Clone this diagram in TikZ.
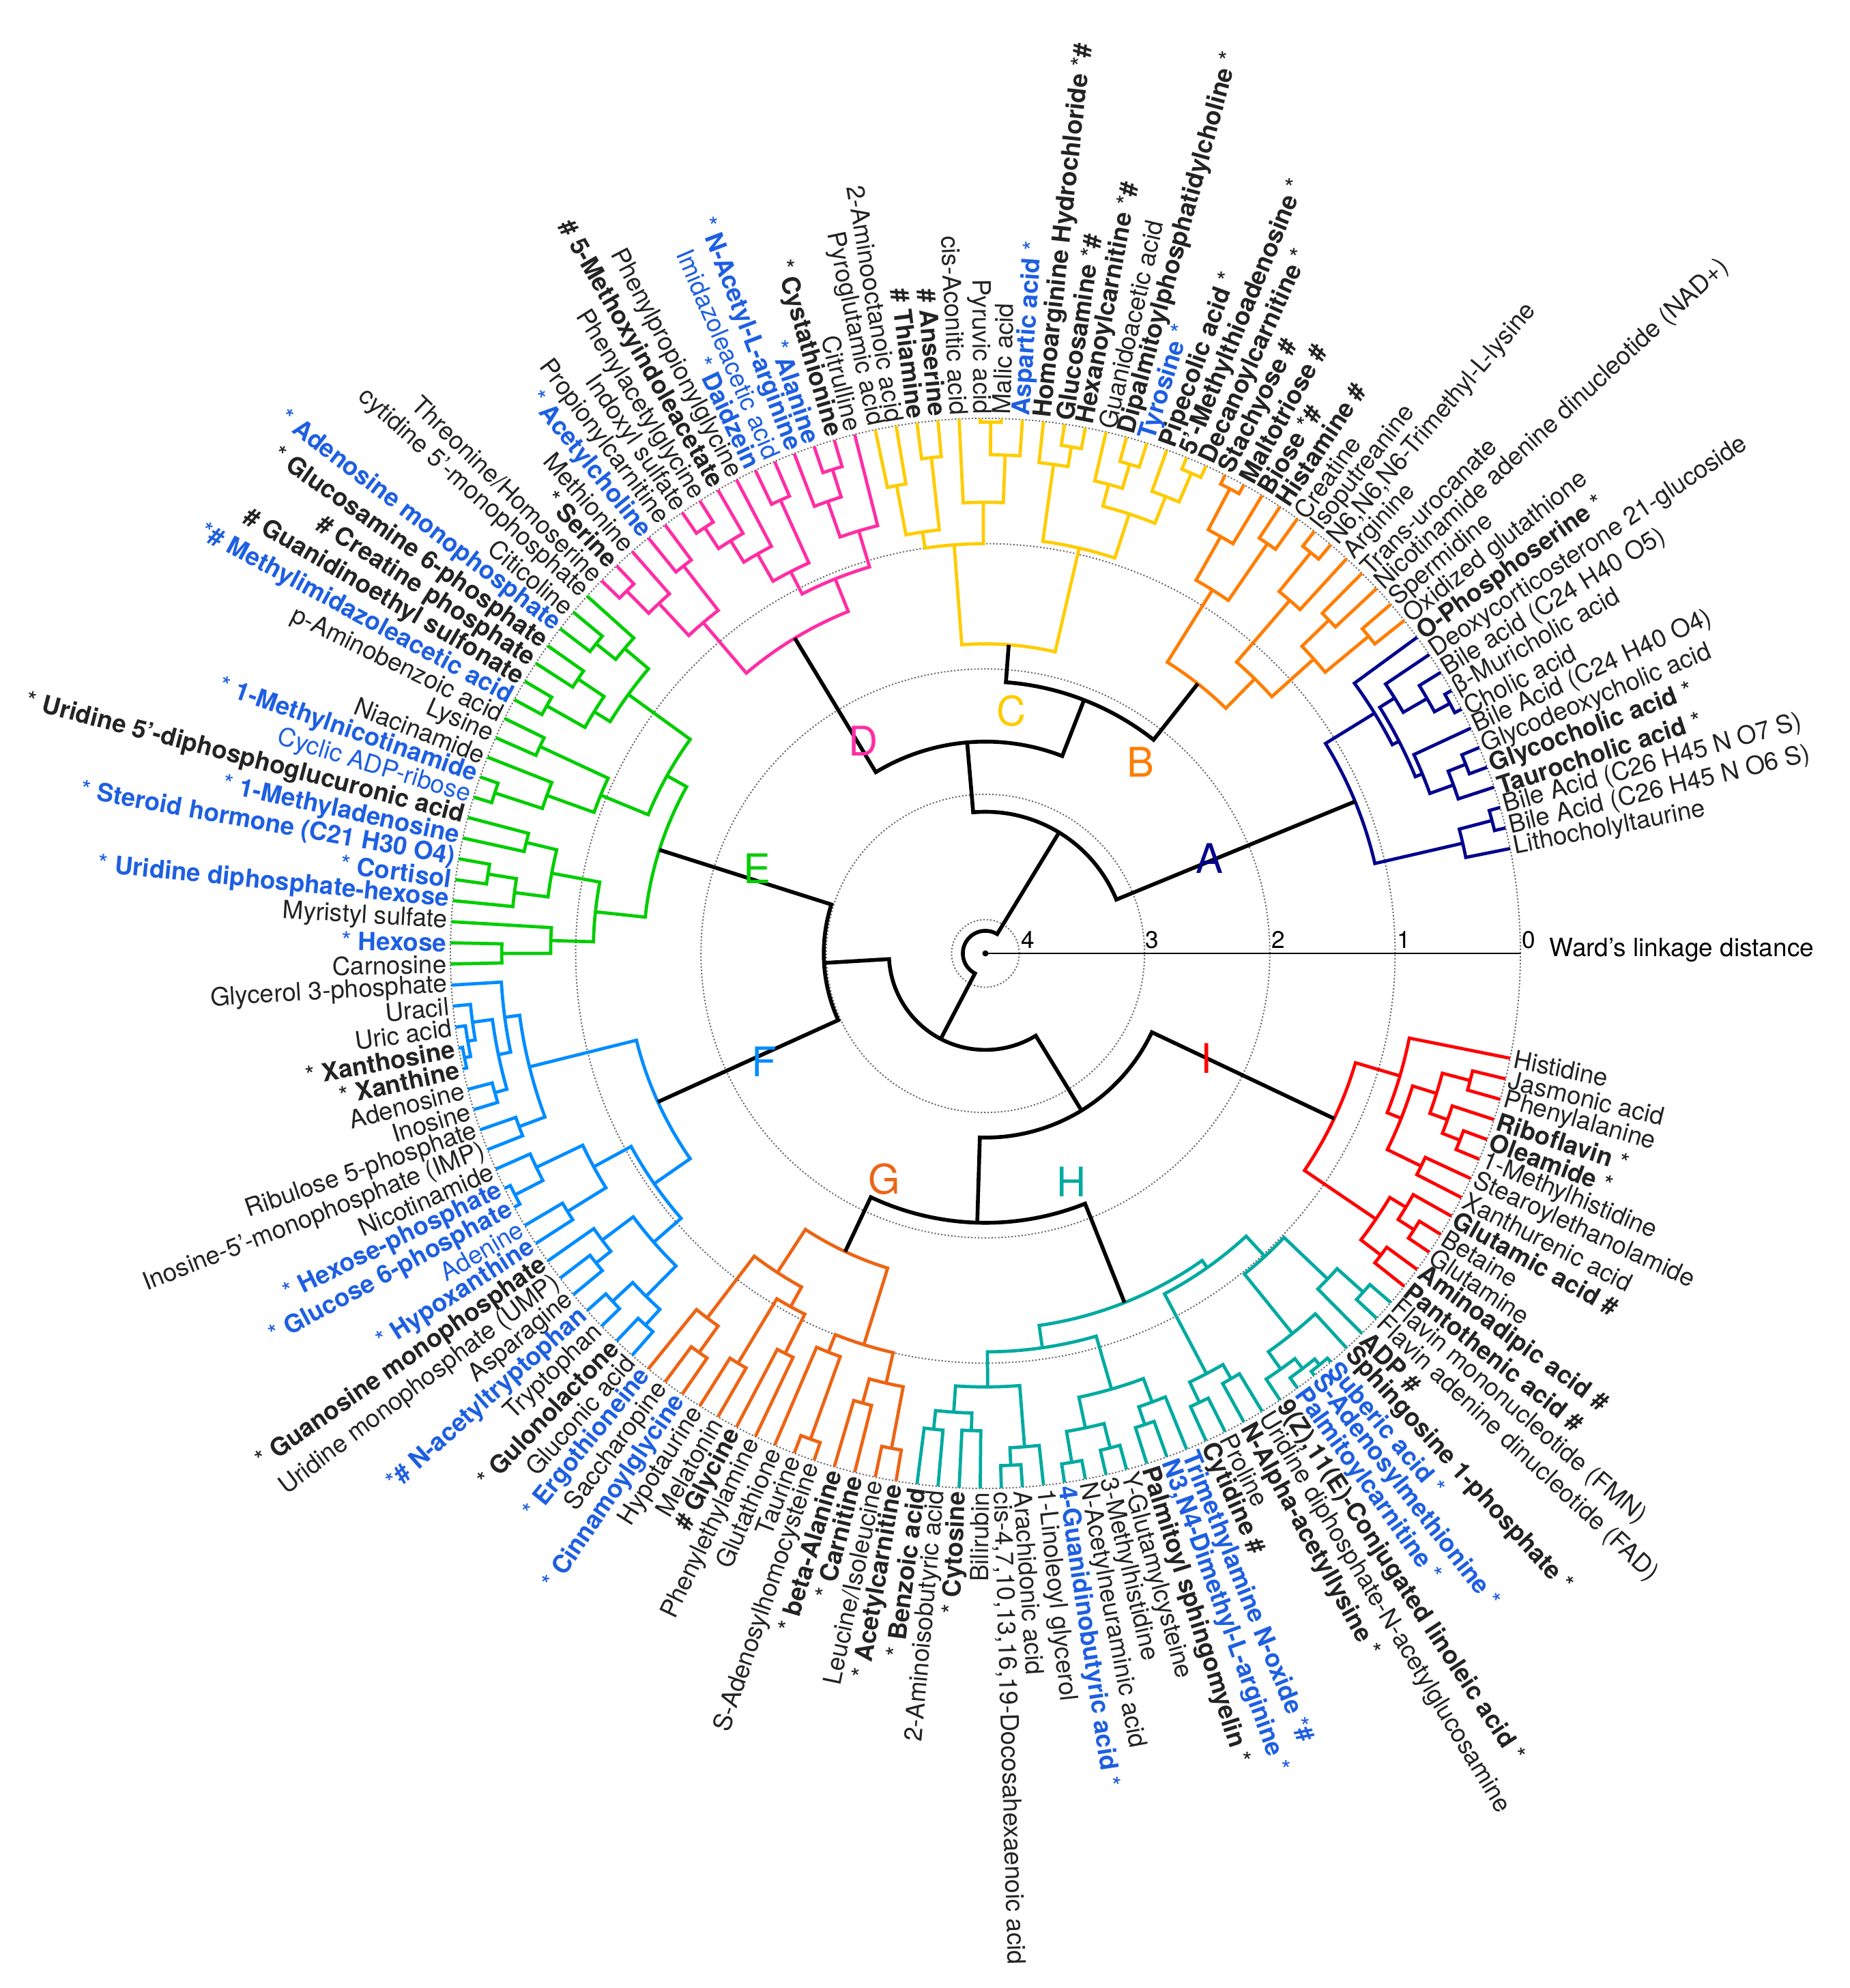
\documentclass[tikz,border=0pt]{standalone}
\usepackage{fontspec}
\setmainfont{TeX Gyre Heros}
\definecolor{cA}{RGB}{0,0,140}
\definecolor{cB}{RGB}{255,125,0}
\definecolor{cC}{RGB}{255,204,0}
\definecolor{cD}{RGB}{255,45,165}
\definecolor{cE}{RGB}{0,205,0}
\definecolor{cF}{RGB}{0,140,255}
\definecolor{cG}{RGB}{236,100,20}
\definecolor{cH}{RGB}{0,170,160}
\definecolor{cI}{RGB}{255,0,0}
\definecolor{labk}{RGB}{35,35,35}
\definecolor{labb}{RGB}{30,95,225}
\newcommand\lfont{\fontsize{10.45}{12}\selectfont}
\newcommand\mk{{\mdseries *}}
\def\bc{black}\def\bw{1.4pt}
\newcommand\setleaf[1]{%
  \pgfmathsetmacro\mLT{11.3+(#1-1)*2.26443}%
  \expandafter\xdef\csname ang:#1\endcsname{\mLT}%
  \expandafter\xdef\csname rad:#1\endcsname{7.84}}
\newcommand\Mrg[4]{%
  \edef\mTA{\csname ang:#2\endcsname}%
  \edef\mTB{\csname ang:#3\endcsname}%
  \edef\mRA{\csname rad:#2\endcsname}%
  \edef\mRB{\csname rad:#3\endcsname}%
  \pgfmathsetmacro\mRR{7.84-1.836*#4}%
  \pgfmathsetmacro\mTM{(\mTA+\mTB)/2}%
  \draw[line width=\bw, color=\bc] (\mTA:\mRA) -- (\mTA:\mRR) arc[start angle=\mTA, end angle=\mTB, radius=\mRR] -- (\mTB:\mRB);%
  \expandafter\xdef\csname ang:#1\endcsname{\mTM}%
  \expandafter\xdef\csname rad:#1\endcsname{\mRR}}
\newcommand\Lab[3]{%
  \pgfmathsetmacro\lth{11.3+(#1-1)*2.26443}%
  \pgfmathtruncatemacro\lsd{and(\lth>90,\lth<270)}%
  \ifnum\lsd=1
    \node[lab,#2,rotate=\lth-180,anchor=east] (l#1) at (\lth:7.90) {#3};%
  \else
    \node[lab,#2,rotate=\lth,anchor=west] (l#1) at (\lth:7.90) {#3};%
  \fi}
\tikzset{
  lab/.style={inner sep=0pt, outer sep=0pt},
  k/.style={text=labk, font=\lfont},
  kb/.style={text=labk, font=\lfont\bfseries},
  b/.style={text=labb, font=\lfont},
  bb/.style={text=labb, font=\lfont\bfseries},
  ring/.style={black!60, line width=0.55pt, dash pattern=on 0.6pt off 0.8pt},
  tick/.style={font=\fontsize{10}{12}\selectfont, anchor=base west, inner sep=0pt},
  clab/.style={font=\fontsize{17}{20}\selectfont, inner sep=0pt}
}
\begin{document}
\begin{tikzpicture}[x=1cm,y=1cm,line join=miter]
\useasboundingbox (-14.44,-15.16) rectangle (12.67,13.97);
\fill[white] (-14.44,-15.16) rectangle (12.67,13.97);
% rings
\foreach \h in {0,1,2,3,4} {\draw[ring] (0,0) circle ({7.84-1.836*\h});}
% axis
\draw[line width=0.6pt] (0,0) -- (7.84,0);
\fill (0,0) circle (0.045);
\node[tick] (t4) at (0.52,0.07) {4};
\node[tick] (t3) at (2.34,0.07) {3};
\node[tick] (t2) at (4.19,0.07) {2};
\node[tick] (t1) at (6.03,0.07) {1};
\node[tick] (t0) at (7.86,0.07) {0};
\node[font=\fontsize{10.5}{12}\selectfont, anchor=base west, inner sep=0pt] (axl) at (8.26,-0.05) {Ward's linkage distance};
% leaves
\foreach \i in {1,...,150} {\setleaf{\i}}
% ---- A
\def\bc{cA}\def\bw{1.35pt}
\Mrg{a23}{2}{3}{0.09}
\Mrg{a1}{1}{a23}{0.36}
\Mrg{a56}{5}{6}{0.15}
\Mrg{a456}{4}{a56}{0.3}
\Mrg{a47}{a456}{7}{0.5}
\Mrg{a89}{8}{9}{0.06}
\Mrg{a810}{a89}{10}{0.2}
\Mrg{a811}{a810}{11}{0.42}
\Mrg{a3}{a47}{a811}{0.56}
\Mrg{a2}{a3}{12}{0.62}
\Mrg{A}{a1}{a2}{1.08}
% ---- B
\def\bc{cB}
\Mrg{b1314}{13}{14}{0.3}
\Mrg{b1516}{15}{16}{0.45}
\Mrg{b1a}{b1314}{b1516}{0.75}
\Mrg{b1819}{18}{19}{0.15}
\Mrg{b1b}{17}{b1819}{0.55}
\Mrg{b1}{b1a}{b1b}{1.2}
\Mrg{b2324}{23}{24}{0.08}
\Mrg{b2224}{22}{b2324}{0.45}
\Mrg{b2021}{20}{21}{0.3}
\Mrg{b2}{b2021}{b2224}{0.85}
\Mrg{B}{b1}{b2}{1.53}
% ---- C
\def\bc{cC}
\Mrg{c4041}{40}{41}{0.47}
\Mrg{c3839}{38}{39}{0.29}
\Mrg{c11}{c3839}{c4041}{0.87}
\Mrg{c3536}{35}{36}{0.03}
\Mrg{c3436}{34}{c3536}{0.29}
\Mrg{c12}{c3436}{37}{0.67}
\Mrg{c1}{c12}{c11}{1.0}
\Mrg{c3132}{31}{32}{0.17}
\Mrg{c21}{c3132}{33}{0.33}
\Mrg{c2829}{28}{29}{0.2}
\Mrg{c22a}{c2829}{30}{0.4}
\Mrg{c2526}{25}{26}{0.1}
\Mrg{c22b}{c2526}{27}{0.35}
\Mrg{c22}{c22b}{c22a}{0.58}
\Mrg{c2}{c22}{c21}{0.95}
\Mrg{C}{c2}{c1}{1.8}
% ---- D
\def\bc{cD}
\Mrg{d4344}{43}{44}{0.22}
\Mrg{d4345}{d4344}{45}{0.45}
\Mrg{d1a}{42}{d4345}{0.75}
\Mrg{d4647}{46}{47}{0.3}
\Mrg{d5051}{50}{51}{0.2}
\Mrg{d4951}{49}{d5051}{0.4}
\Mrg{d4851}{48}{d4951}{0.6}
\Mrg{d1b}{d4647}{d4851}{0.85}
\Mrg{d1}{d1a}{d1b}{1.05}
\Mrg{d5253}{52}{53}{0.35}
\Mrg{d5556}{55}{56}{0.2}
\Mrg{d5456}{54}{d5556}{0.45}
\Mrg{d2}{d5253}{d5456}{0.8}
\Mrg{D}{d1}{d2}{1.33}
% ---- E
\def\bc{cE}
\Mrg{e5859}{58}{59}{0.3}
\Mrg{e111}{57}{e5859}{0.5}
\Mrg{e6061}{60}{61}{0.35}
\Mrg{e6263}{62}{63}{0.25}
\Mrg{e112}{e6061}{e6263}{0.6}
\Mrg{e11}{e111}{e112}{0.75}
\Mrg{e6465}{64}{65}{0.35}
\Mrg{e6768}{67}{68}{0.15}
\Mrg{e6668}{66}{e6768}{0.55}
\Mrg{e12}{e6465}{e6668}{0.95}
\Mrg{e1}{e11}{e12}{1.36}
\Mrg{e6970}{69}{70}{0.5}
\Mrg{e7172}{71}{72}{0.25}
\Mrg{e7173}{e7172}{73}{0.48}
\Mrg{e2a}{e6970}{e7173}{0.75}
\Mrg{e7576}{75}{76}{0.41}
\Mrg{e2b}{74}{e7576}{0.8}
\Mrg{e2}{e2a}{e2b}{1.14}
\Mrg{E}{e1}{e2}{1.54}
% ---- F
\def\bc{cF}
\Mrg{f8081}{80}{81}{0.03}
\Mrg{f7981}{79}{f8081}{0.08}
\Mrg{f7881}{78}{f7981}{0.14}
\Mrg{f8283}{82}{83}{0.2}
\Mrg{f7883}{f7881}{f8283}{0.3}
\Mrg{f1a}{77}{f7883}{0.4}
\Mrg{f8485}{84}{85}{0.3}
\Mrg{f1}{f1a}{f8485}{0.52}
\Mrg{f8788}{87}{88}{0.05}
\Mrg{f8688}{86}{f8788}{0.3}
\Mrg{f8990}{89}{90}{0.35}
\Mrg{f2a}{f8688}{f8990}{0.71}
\Mrg{f9293}{92}{93}{0.3}
\Mrg{f9193}{91}{f9293}{0.45}
\Mrg{f9495}{94}{95}{0.2}
\Mrg{f9697}{96}{97}{0.25}
\Mrg{f9497}{f9495}{f9697}{0.42}
\Mrg{f2b}{f9193}{f9497}{0.76}
\Mrg{f2}{f2a}{f2b}{1.05}
\Mrg{F}{f1}{f2}{1.40}
% ---- G
\def\bc{cG}
\Mrg{g99100}{99}{100}{0.35}
\Mrg{g1a}{98}{g99100}{0.61}
\Mrg{g101102}{101}{102}{0.45}
\Mrg{g103104}{103}{104}{0.7}
\Mrg{g1b}{g101102}{g103104}{1.05}
\Mrg{g1}{g1a}{g1b}{1.23}
\Mrg{g106107}{106}{107}{0.15}
\Mrg{g2a}{105}{g106107}{0.85}
\Mrg{g108109}{108}{109}{0.55}
\Mrg{g110111}{110}{111}{0.25}
\Mrg{g2b}{g108109}{g110111}{0.75}
\Mrg{g2}{g2a}{g2b}{1.0}
\Mrg{G}{g1}{g2}{1.64}
% ---- H
\def\bc{cH}
\Mrg{h112113}{112}{113}{0.45}
\Mrg{h114115}{114}{115}{0.46}
\Mrg{h1a1}{h112113}{h114115}{0.6}
\Mrg{h116117}{116}{117}{0.18}
\Mrg{h1a2}{h116117}{118}{0.32}
\Mrg{h1a}{h1a1}{h1a2}{0.81}
\Mrg{h119120}{119}{120}{0.15}
\Mrg{h121122}{121}{122}{0.2}
\Mrg{h119122}{h119120}{h121122}{0.4}
\Mrg{h123124}{123}{124}{0.3}
\Mrg{h123125}{h123124}{125}{0.45}
\Mrg{h1b}{h119122}{h123125}{0.65}
\Mrg{h1}{h1a}{h1b}{1.09}
\Mrg{h126127}{126}{127}{0.3}
\Mrg{h128129}{128}{129}{0.35}
\Mrg{h2a}{h126127}{h128129}{0.48}
\Mrg{h132133}{132}{133}{0.04}
\Mrg{h131133}{131}{h132133}{0.1}
\Mrg{h130133}{130}{h131133}{0.2}
\Mrg{h2b1}{h130133}{134}{0.37}
\Mrg{h136137}{136}{137}{0.22}
\Mrg{h2b2}{135}{h136137}{0.5}
\Mrg{h2b}{h2b1}{h2b2}{0.98}
\Mrg{h2}{h2a}{h2b}{1.2}
\Mrg{H}{h1}{h2}{1.27}
% ---- I
\def\bc{cI}
\Mrg{i140141}{140}{141}{0.2}
\Mrg{i140142}{i140141}{142}{0.35}
\Mrg{i138139}{138}{139}{0.3}
\Mrg{i2}{i138139}{i140142}{0.5}
\Mrg{i143144}{143}{144}{0.4}
\Mrg{i145146}{145}{146}{0.2}
\Mrg{i145147}{i145146}{147}{0.35}
\Mrg{i148149}{148}{149}{0.27}
\Mrg{i145149}{i145147}{i148149}{0.5}
\Mrg{i1b}{i143144}{i145149}{0.7}
\Mrg{i1}{i1b}{150}{0.82}
\Mrg{I}{i2}{i1}{1.19}
% ---- top level
\def\bc{black}\def\bw{1.6pt}
\Mrg{Y2}{B}{C}{2.10}
\Mrg{Y1}{Y2}{D}{2.58}
\Mrg{X1}{A}{Y1}{3.14}
\Mrg{Z1}{E}{F}{2.98}
\Mrg{Z3}{G}{H}{2.12}
\Mrg{Z2}{Z3}{I}{2.80}
\Mrg{X2}{Z1}{Z2}{3.5}
\Mrg{R}{X1}{X2}{4.09}
% cluster letters
\node[clab,text=cA] (LA) at (3.28,1.39) {A};
\node[clab,text=cB] (LB) at (2.27,2.80) {B};
\node[clab,text=cC] (LC) at (0.38,3.55) {C};
\node[clab,text=cD] (LD) at (-1.79,3.11) {D};
\node[clab,text=cE] (LE) at (-3.35,1.24) {E};
\node[clab,text=cF] (LF) at (-3.24,-1.59) {F};
\node[clab,text=cG] (LG) at (-1.48,-3.31) {G};
\node[clab,text=cH] (LH) at (1.26,-3.35) {H};
\node[clab,text=cI] (LI) at (3.24,-1.54) {I};
% labels
\Lab{1}{k}{Lithocholyltaurine}
\Lab{2}{k}{Bile Acid (C26 H45 N O6 S)}
\Lab{3}{k}{Bile Acid (C26 H45 N O7 S)}
\Lab{4}{kb}{Taurocholic acid \mk}
\Lab{5}{kb}{Glycocholic acid \mk}
\Lab{6}{k}{Glycodeoxycholic acid}
\Lab{7}{k}{Bile Acid (C24 H40 O4)}
\Lab{8}{k}{Cholic acid}
\Lab{9}{k}{β-Muricholic acid}
\Lab{10}{k}{Bile acid (C24 H40 O5)}
\Lab{11}{k}{Deoxycorticosterone 21-glucoside}
\Lab{12}{kb}{O-Phosphoserine \mk}
\Lab{13}{k}{Oxidized glutathione}
\Lab{14}{k}{Spermidine}
\Lab{15}{k}{Nicotinamide adenine dinucleotide (NAD+)}
\Lab{16}{k}{Trans-urocanate}
\Lab{17}{k}{Arginine}
\Lab{18}{k}{N6,N6,N6-Trimethyl-L-lysine}
\Lab{19}{k}{Isoputreanine}
\Lab{20}{k}{Creatine}
\Lab{21}{kb}{Histamine \#}
\Lab{22}{kb}{Biose \mk\#}
\Lab{23}{kb}{Maltotriose \#}
\Lab{24}{kb}{Stachyose \#}
\Lab{25}{kb}{Decanoylcarnitine \mk}
\Lab{26}{kb}{5'-Methylthioadenosine \mk}
\Lab{27}{kb}{Pipecolic acid \mk}
\Lab{28}{bb}{Tyrosine \mk}
\Lab{29}{kb}{Dipalmitoylphosphatidylcholine \mk}
\Lab{30}{k}{Guanidoacetic acid}
\Lab{31}{kb}{Hexanoylcarnitine \mk\#}
\Lab{32}{kb}{Glucosamine \mk\#}
\Lab{33}{kb}{Homoarginine Hydrochloride \mk\#}
\Lab{34}{bb}{Aspartic acid \mk}
\Lab{35}{k}{Malic acid}
\Lab{36}{k}{Pyruvic acid}
\Lab{37}{k}{cis-Aconitic acid}
\Lab{38}{kb}{\# Anserine}
\Lab{39}{kb}{\# Thiamine}
\Lab{40}{k}{2-Aminooctanoic acid}
\Lab{41}{k}{Pyroglutamic acid}
\Lab{42}{k}{Citrulline}
\Lab{43}{kb}{\mk{} Cystathionine}
\Lab{44}{bb}{\mk{} Alanine}
\Lab{45}{bb}{\mk{} N-Acetyl-L-arginine}
\Lab{46}{b}{Imidazoleacetic acid}
\Lab{47}{bb}{\mk{} Daidzein}
\Lab{48}{k}{Phenylpropionylglycine}
\Lab{49}{kb}{\# 5-Methoxyindoleacetate}
\Lab{50}{k}{Phenylacetylglycine}
\Lab{51}{k}{Indoxyl sulfate}
\Lab{52}{k}{Propionylcarnitine}
\Lab{53}{bb}{\mk{} Acetylcholine}
\Lab{54}{k}{Methionine}
\Lab{55}{kb}{\mk{} Serine}
\Lab{56}{k}{Threonine/Homoserine}
\Lab{57}{k}{cytidine 5'-monophosphate}
\Lab{58}{k}{Citicoline}
\Lab{59}{bb}{\mk{} Adenosine monophosphate}
\Lab{60}{kb}{\mk{} Glucosamine 6-phosphate}
\Lab{61}{kb}{\# Creatine phosphate}
\Lab{62}{kb}{\# Guanidinoethyl sulfonate}
\Lab{63}{bb}{\mk\# Methylimidazoleacetic acid}
\Lab{64}{k}{p-Aminobenzoic acid}
\Lab{65}{k}{Lysine}
\Lab{66}{k}{Niacinamide}
\Lab{67}{bb}{\mk{} 1-Methylnicotinamide}
\Lab{68}{b}{Cyclic ADP-ribose}
\Lab{69}{kb}{\mk{} Uridine 5'-diphosphoglucuronic acid}
\Lab{70}{bb}{\mk{} 1-Methyladenosine}
\Lab{71}{bb}{\mk{} Steroid hormone (C21 H30 O4)}
\Lab{72}{bb}{\mk{} Cortisol}
\Lab{73}{bb}{\mk{} Uridine diphosphate-hexose}
\Lab{74}{k}{Myristyl sulfate}
\Lab{75}{bb}{\mk{} Hexose}
\Lab{76}{k}{Carnosine}
\Lab{77}{k}{Glycerol 3-phosphate}
\Lab{78}{k}{Uracil}
\Lab{79}{k}{Uric acid}
\Lab{80}{kb}{\mk{} Xanthosine}
\Lab{81}{kb}{\mk{} Xanthine}
\Lab{82}{k}{Adenosine}
\Lab{83}{k}{Inosine}
\Lab{84}{k}{Ribulose 5-phosphate}
\Lab{85}{k}{Inosine-5'-monophosphate (IMP)}
\Lab{86}{k}{Nicotinamide}
\Lab{87}{bb}{\mk{} Hexose-phosphate}
\Lab{88}{bb}{\mk{} Glucose 6-phosphate}
\Lab{89}{b}{Adenine}
\Lab{90}{bb}{\mk{} Hypoxanthine}
\Lab{91}{kb}{\mk{} Guanosine monophosphate}
\Lab{92}{k}{Uridine monophosphate (UMP)}
\Lab{93}{k}{Asparagine}
\Lab{94}{bb}{\mk\# N-acetyltryptophan}
\Lab{95}{k}{Tryptophan}
\Lab{96}{kb}{\mk{} Gulonolactone}
\Lab{97}{k}{Gluconic acid}
\Lab{98}{bb}{\mk{} Ergothioneine}
\Lab{99}{k}{Saccharopine}
\Lab{100}{bb}{\mk{} Cinnamoylglycine}
\Lab{101}{k}{Hypotaurine}
\Lab{102}{k}{Melatonin}
\Lab{103}{kb}{\# Glycine}
\Lab{104}{k}{Phenylethylamine}
\Lab{105}{k}{Glutathione}
\Lab{106}{k}{Taurine}
\Lab{107}{k}{S-Adenosylhomocysteine}
\Lab{108}{kb}{\mk{} beta-Alanine}
\Lab{109}{kb}{\mk{} Carnitine}
\Lab{110}{k}{Leucine/Isoleucine}
\Lab{111}{kb}{\mk{} Acetylcarnitine}
\Lab{112}{kb}{\mk{} Benzoic acid}
\Lab{113}{k}{2-Aminoisobutyric acid}
\Lab{114}{kb}{\mk{} Cytosine}
\Lab{115}{k}{Bilirubin}
\Lab{116}{k}{cis-4,7,10,13,16,19-Docosahexaenoic acid}
\Lab{117}{k}{Arachidonic acid}
\Lab{118}{k}{1-Linoleoyl glycerol}
\Lab{119}{bb}{4-Guanidinobutyric acid \mk}
\Lab{120}{k}{N-Acetylneuraminic acid}
\Lab{121}{k}{3-Methylhistidine}
\Lab{122}{k}{Y-Glutamylcysteine}
\Lab{123}{kb}{Palmitoyl sphingomyelin \mk}
\Lab{124}{bb}{N3,N4-Dimethyl-L-arginine \mk}
\Lab{125}{bb}{Trimethylamine N-oxide \mk\#}
\Lab{126}{kb}{Cytidine \#}
\Lab{127}{k}{Proline}
\Lab{128}{kb}{N-Alpha-acetyllysine \mk}
\Lab{129}{k}{Uridine diphosphate-N-acetylglucosamine}
\Lab{130}{kb}{9(Z),11(E)-Conjugated linoleic acid \mk}
\Lab{131}{bb}{Palmitoylcarnitine \mk}
\Lab{132}{bb}{S-Adenosylmethionine \mk}
\Lab{133}{bb}{Suberic acid \mk}
\Lab{134}{kb}{Sphingosine 1-phosphate \mk}
\Lab{135}{kb}{ADP \#}
\Lab{136}{k}{Flavin adenine dinucleotide (FAD)}
\Lab{137}{k}{Flavin mononucleotide (FMN)}
\Lab{138}{kb}{Pantothenic acid \#}
\Lab{139}{kb}{Aminoadipic acid \#}
\Lab{140}{k}{Glutamine}
\Lab{141}{k}{Betaine}
\Lab{142}{kb}{Glutamic acid \#}
\Lab{143}{k}{Xanthurenic acid}
\Lab{144}{k}{Stearoylethanolamide}
\Lab{145}{k}{1-Methylhistidine}
\Lab{146}{kb}{Oleamide \mk}
\Lab{147}{kb}{Riboflavin \mk}
\Lab{148}{k}{Phenylalanine}
\Lab{149}{k}{Jasmonic acid}
\Lab{150}{k}{Histidine}
\end{tikzpicture}
\end{document}
